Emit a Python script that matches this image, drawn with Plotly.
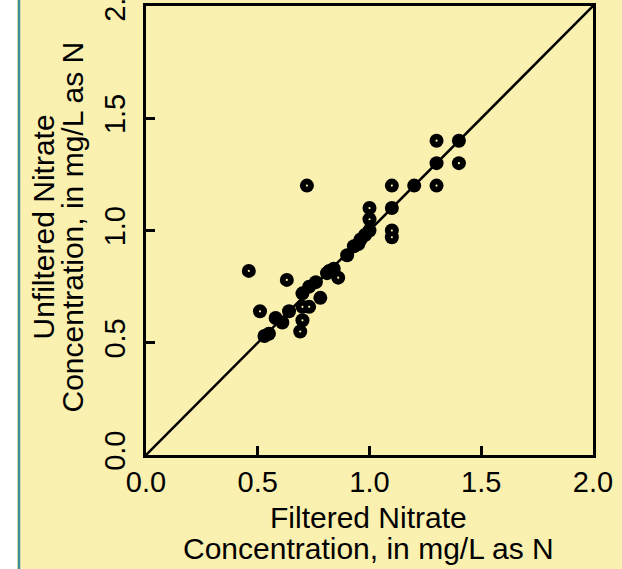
import plotly.graph_objects as go

# ---- data (mg/L as N) ----
# samples well off the 1:1 line (center dot visible)
filtered_out = [0.46, 0.51, 0.63, 0.72, 0.70, 0.73, 0.70, 0.69, 0.86, 1.00, 1.00, 1.10, 1.10, 1.10, 1.30, 1.30, 1.40]
unfiltered_out = [0.82, 0.64, 0.78, 1.20, 0.66, 0.66, 0.60, 0.55, 0.79, 1.10, 1.05, 1.00, 0.97, 1.20, 1.20, 1.40, 1.30]
# samples in the dense band along the 1:1 line
filtered_band = [0.53, 0.55, 0.58, 0.61, 0.64, 0.70, 0.73, 0.76, 0.78, 0.81, 0.82, 0.84, 0.90, 0.93, 0.95,
                 0.96, 0.98, 1.00, 1.10, 1.20, 1.30, 1.40]
unfiltered_band = [0.53, 0.54, 0.61, 0.59, 0.64, 0.72, 0.75, 0.77, 0.70, 0.81, 0.82, 0.83, 0.89, 0.93, 0.94,
                   0.96, 0.98, 1.00, 1.10, 1.20, 1.30, 1.40]
one_to_one = [0.0, 2.0]
tick_vals = [0.0, 0.5, 1.0, 1.5, 2.0]
tick_text = ["0.0", "0.5", "1.0", "1.5", "2.0"]
x_title = ["Filtered Nitrate", "Concentration, in mg/L as N"]
y_title = ["Unfiltered Nitrate", "Concentration, in mg/L as N"]

W, H = 622, 569
ML, MR, MT, MB = 146, 29, 6, 114
PW, PH = W - ML - MR, H - MT - MB
BG = "#FAF0AF"
FONT = "Liberation Sans, Arial, sans-serif"
FS = 29
FST = 30

fig = go.Figure()
fig.add_trace(go.Scatter(x=filtered_out, y=unfiltered_out, mode="markers",
                         marker=dict(size=14, color="black", line=dict(width=0)), hoverinfo="skip"))
fig.add_trace(go.Scatter(x=filtered_band, y=unfiltered_band, mode="markers",
                         marker=dict(size=14, color="black", line=dict(width=0)), hoverinfo="skip"))
fig.add_trace(go.Scatter(x=filtered_out, y=unfiltered_out, mode="markers",
                         marker=dict(size=2.2, color=BG, line=dict(width=0)), hoverinfo="skip"))
fig.add_trace(go.Scatter(x=one_to_one, y=one_to_one, mode="lines",
                         line=dict(color="black", width=2.5), hoverinfo="skip"))

axis_common = dict(range=[0, 2], tickvals=tick_vals, ticktext=tick_text, ticks="inside", ticklen=9,
                   tickwidth=2.5, tickcolor="black", showline=True, linewidth=3, linecolor="black",
                   mirror=True, showgrid=False, zeroline=False, ticklabeloverflow="allow",
                   automargin=False,
                   tickfont=dict(family=FONT, size=FS, color="black"))

fig.update_layout(
    width=W, height=H, autosize=False,
    margin=dict(l=ML, r=MR, t=MT, b=MB, pad=0),
    paper_bgcolor=BG, plot_bgcolor=BG,
    showlegend=False,
    xaxis=dict(**axis_common, ticklabelstandoff=-1),
    yaxis=dict(**axis_common, tickangle=-90, ticklabelstandoff=6),
    font=dict(family=FONT, size=FS, color="black"),
)

# white strip and teal rule at the left edge
fig.add_shape(type="rect", xref="paper", yref="paper",
              x0=-ML / PW - 0.01, x1=(17 - ML) / PW, y0=-MB / PH - 0.01, y1=1 + MT / PH + 0.01,
              fillcolor="white", line=dict(width=0), layer="below")
fig.add_shape(type="line", xref="paper", yref="paper",
              x0=(19 - ML) / PW, x1=(19 - ML) / PW, y0=-MB / PH - 0.01, y1=1 + MT / PH + 0.01,
              line=dict(color="#3F8E9E", width=2.5), layer="below")

for txt, ys in zip(x_title, [-62, -93.5]):
    fig.add_annotation(text=txt, xref="paper", yref="paper", x=0.5, y=0, xanchor="center",
                       yanchor="middle", yshift=ys, xshift=-1.5, showarrow=False,
                       font=dict(family=FONT, size=FST, color="black"))
for txt, xs in zip(y_title, [-103, -74]):
    fig.add_annotation(text=txt, xref="paper", yref="paper", x=0, y=0.5, xanchor="center",
                       yanchor="middle", xshift=xs, yshift=3, textangle=-90, showarrow=False,
                       font=dict(family=FONT, size=FST, color="black"))

fig.write_html("out.html", config={"displayModeBar": False},
               post_script="document.body.style.margin='0';document.body.style.overflow='hidden';")
